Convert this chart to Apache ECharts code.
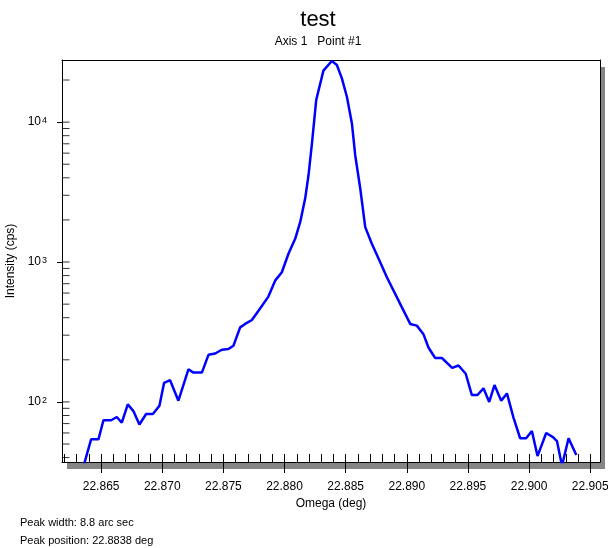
<!DOCTYPE html>
<html>
<head>
<meta charset="utf-8">
<script src="https://cdn.jsdelivr.net/npm/echarts@6/dist/echarts.min.js"></script>
<style>
html,body{margin:0;padding:0;background:#fff;}
#chart{width:608px;height:548px;}
</style>
</head>
<body>
<div id="chart"></div>
<script>
const omega = [22.86361, 22.86418, 22.86478, 22.86519, 22.86582, 22.86628, 22.86669, 22.86718, 22.86764, 22.86813,
  22.86868, 22.86923, 22.86977, 22.87015, 22.87064, 22.87132, 22.87214, 22.87255, 22.87324, 22.87378,
  22.87433, 22.87487, 22.87541, 22.87582, 22.87637, 22.87678, 22.87733, 22.87787, 22.87868, 22.87923,
  22.87978, 22.88032, 22.88087, 22.88128, 22.88169, 22.88196, 22.88224, 22.88259, 22.88318, 22.88387, 22.88428,
  22.88469, 22.88510, 22.88551, 22.88578, 22.88619, 22.88660, 22.88714, 22.88776, 22.88837, 22.88905,
  22.88960, 22.89028, 22.89082, 22.89136, 22.89177, 22.89232, 22.89287, 22.89371, 22.89423, 22.89482,
  22.89532, 22.89578, 22.89627, 22.89674, 22.89717, 22.89772, 22.89819, 22.89873, 22.89927, 22.89976,
  22.90023, 22.90069, 22.90140, 22.90195, 22.90228, 22.90269, 22.90323, 22.90386];
const intensity = [36, 54, 54, 74, 74, 78, 71, 96, 86, 69,
  82, 82, 94, 137, 143, 102, 171, 162, 162, 217,
  222, 236, 239, 252, 341, 361, 385, 449, 566, 736,
  845, 1146, 1466, 1927, 2852, 4170, 7030, 14380, 23330, 27350, 25600,
  20550, 15180, 9790, 5800, 3366, 1775, 1349, 1026, 778, 592,
  474, 361, 351, 305, 245, 206, 206, 175, 182, 159,
  112, 112, 125, 100, 132, 102, 115, 77, 55, 55,
  62, 41, 60, 56, 52.5, 35, 55, 41.7];
const xTickLabels = [22.865, 22.870, 22.875, 22.880, 22.885, 22.890, 22.895, 22.900, 22.905];
const yInnerTicks = [40, 50, 60, 70, 80, 90, 100, 200, 300, 400, 500, 600, 700, 800, 900,
  1000, 2000, 3000, 4000, 5000, 6000, 7000, 8000, 9000, 10000, 20000];
const xMin = 22.8618, xMax = 22.9058, yMin = 37.2, yMax = 27800;

const xMinorTicks = [];
for (let i = 0; i <= 43; i++) xMinorTicks.push(+(22.862 + i * 0.001).toFixed(3));

const FONT = 'Liberation Sans, Arial, sans-serif';
const chart = echarts.init(document.getElementById('chart'), null, {renderer: 'canvas'});
chart.setOption({
  animation: false,
  backgroundColor: '#fff',
  title: {
    text: 'test',
    subtext: 'Axis 1   Point #1',
    left: 318, top: 9, textAlign: 'center', padding: 0, itemGap: 5,
    textStyle: {fontSize: 22, fontWeight: 'normal', color: '#000', fontFamily: FONT},
    subtextStyle: {fontSize: 12, color: '#000', fontFamily: FONT}
  },
  grid: {
    left: 62, top: 60, right: 8, bottom: 86,
    outerBoundsMode: 'none', containLabel: false,
    show: true, backgroundColor: '#fff', borderColor: 'transparent', borderWidth: 0,
    shadowColor: '#858585', shadowBlur: 0, shadowOffsetX: 5, shadowOffsetY: 7
  },
  xAxis: [{
    type: 'value', min: xMin, max: xMax, position: 'bottom',
    name: 'Omega (deg)', nameLocation: 'middle', nameGap: 36,
    nameTextStyle: {fontSize: 12, color: '#000', fontFamily: FONT},
    axisLine: {show: true, lineStyle: {color: '#000', width: 1}},
    axisTick: {show: true, inside: false, length: 11, customValues: xTickLabels, lineStyle: {color: '#000'}},
    axisLabel: {show: true, margin: 19, customValues: xTickLabels, color: '#000', fontSize: 12, fontFamily: FONT,
      formatter: v => v.toFixed(3)},
    splitLine: {show: false}
  }, {
    type: 'value', min: xMin, max: xMax, position: 'bottom',
    axisLine: {show: false},
    axisTick: {show: true, inside: true, length: 8, customValues: xMinorTicks, lineStyle: {color: '#000'}},
    axisLabel: {show: false},
    splitLine: {show: false}
  }, {
    type: 'value', min: xMin, max: xMax, position: 'top',
    axisLine: {show: true, lineStyle: {color: '#000', width: 1}},
    axisTick: {show: false}, axisLabel: {show: false}, splitLine: {show: false}
  }],
  yAxis: [{
    type: 'log', logBase: 10, min: yMin, max: yMax, position: 'left',
    name: 'Intensity (cps)', nameLocation: 'middle', nameGap: 39, nameRotate: 90,
    nameTextStyle: {fontSize: 12, color: '#000', fontFamily: FONT},
    axisLine: {show: true, lineStyle: {color: '#000', width: 1}},
    axisTick: {show: true, inside: false, length: 5, lineStyle: {color: '#000'}},
    minorTick: {show: false},
    axisLabel: {
      show: true, margin: 15, color: '#000', fontFamily: FONT,
      showMinLabel: false, showMaxLabel: false,
      formatter: v => {
        const e = Math.log10(v);
        if (Math.abs(e - Math.round(e)) > 1e-6) return '';
        return '{n|10}{s|' + Math.round(e) + '}';
      },
      rich: {
        n: {fontSize: 12, color: '#000', fontFamily: FONT, verticalAlign: 'bottom'},
        s: {fontSize: 9, color: '#000', fontFamily: FONT, verticalAlign: 'top', lineHeight: 9, padding: [0, 0, 5, 1]}
      }
    },
    splitLine: {show: false}
  }, {
    type: 'log', logBase: 10, min: yMin, max: yMax, position: 'right',
    axisLine: {show: true, lineStyle: {color: '#000', width: 1}},
    axisTick: {show: false}, axisLabel: {show: false}, splitLine: {show: false}
  }],
  series: [{
    type: 'line',
    data: omega.map((x, i) => [x, intensity[i]]),
    symbol: 'none',
    lineStyle: {color: '#0000ff', width: 2.5},
    clip: true,
    z: 3
  }, {
    type: 'scatter',
    data: yInnerTicks.map(v => [xMin, v]),
    symbol: 'rect',
    symbolSize: [7, 1],
    symbolOffset: [4, 0],
    itemStyle: {color: '#000'},
    silent: true,
    clip: false,
    z: 4
  }],
  graphic: [{
    type: 'text', left: 20, top: 517,
    style: {text: 'Peak width: 8.8 arc sec', fontSize: 11, fill: '#000', fontFamily: FONT}
  }, {
    type: 'text', left: 20, top: 535,
    style: {text: 'Peak position: 22.8838 deg', fontSize: 11, fill: '#000', fontFamily: FONT}
  }]
});
</script>
</body>
</html>
